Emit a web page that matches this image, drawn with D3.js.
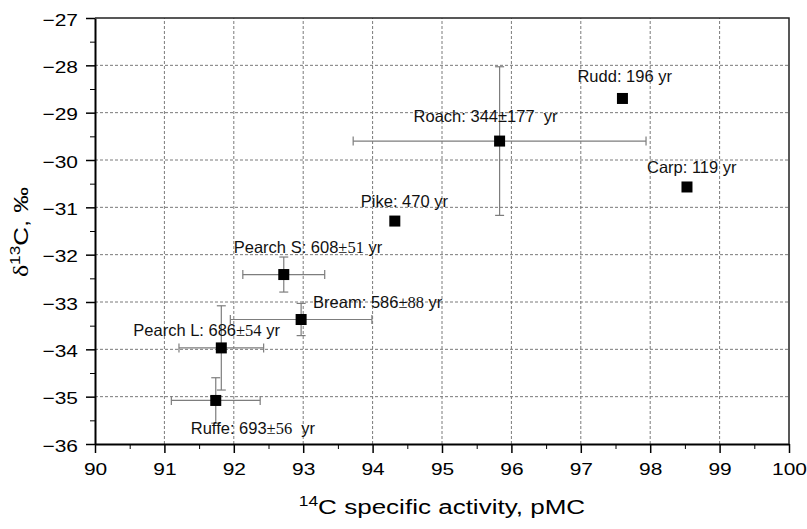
<!DOCTYPE html>
<html>
<head>
<meta charset="utf-8">
<script src="https://cdn.jsdelivr.net/npm/d3@7"></script>
<style>
  body { margin: 0; background: #fff; }
  svg { display: block; }
  .grid line { stroke: #7a7a7a; stroke-width: 1; stroke-dasharray: 3 2; }
  .axis path, .axis line { stroke: #000; }
  .axis text { font-family: "Liberation Sans", Arial, sans-serif; font-size: 17px; fill: #000; }
  .errbar { stroke: #7d7d7d; stroke-width: 1.2; fill: none; }
  .label { font-family: "Liberation Sans", Arial, sans-serif; font-size: 16.5px; fill: #111; white-space: pre; }
  .serif { font-family: "Liberation Serif", "Times New Roman", serif; }
  .title { font-family: "Liberation Sans", Arial, sans-serif; font-size: 21px; fill: #000; }
</style>
</head>
<body>
<div id="chart"></div>
<script>
// fish species, 14C specific activity (pMC) and d13C (permil)
const species = ["Rudd", "Roach", "Carp", "Pike", "Pearch S", "Bream", "Pearch L", "Ruffe"];
const pmc = [97.6, 95.83, 98.53, 94.32, 92.72, 92.97, 91.82, 91.74];
const d13c = [-28.7, -29.6, -30.57, -31.29, -32.42, -33.37, -33.97, -35.08];
const pmcErr = [0, 2.11, 0, 0, 0.59, 1.02, 0.61, 0.64];
const d13cErr = [0, 1.57, 0, 0, 0.37, 0.34, 0.89, 0.48];
const ages = ["196", "344", "119", "470", "608", "586", "686", "693"];
const ageErr = ["", "\u00b1177", "", "", "\u00b151", "\u00b188", "\u00b154", "\u00b156"];

const xTicks = [90, 91, 92, 93, 94, 95, 96, 97, 98, 99, 100];
const yTicks = [-36, -35, -34, -33, -32, -31, -30, -29, -28, -27];

const data = species.map((s, i) => ({
  name: s, x: pmc[i], y: d13c[i], xe: pmcErr[i], ye: d13cErr[i], age: ages[i], err: ageErr[i]
}));

const width = 807, height = 529;
const margin = { top: 18, right: 18, bottom: 85, left: 95 };

// label placement relative to the marker (px)
const labelOffset = {
  "Rudd": [-45, -16], "Roach": [-86, -19], "Carp": [-40, -14], "Pike": [-34, -14],
  "Pearch S": [-50, -22], "Bream": [12, -12], "Pearch L": [-88, -12], "Ruffe": [-25, 34]
};
const serifErr = { "Pearch S": true, "Bream": true, "Pearch L": true, "Ruffe": true };
const gapAfter = { "Roach": "  ", "Ruffe": "  " };

// the original lettering is wider than Liberation Sans
const stretch = 1.23;
function widen(sel, k) {
  sel.each(function() {
    const w = this.getComputedTextLength();
    d3.select(this).attr("textLength", w * k).attr("lengthAdjust", "spacingAndGlyphs");
  });
}

const xScale = d3.scaleLinear().domain([90, 100]).range([margin.left, width - margin.right]);
const yScale = d3.scaleLinear().domain([-36, -27]).range([height - margin.bottom, margin.top]);

const svg = d3.select("#chart").append("svg")
  .attr("width", width)
  .attr("height", height);

const x0 = xScale.range()[0], x1 = xScale.range()[1];
const y0 = yScale.range()[0], y1 = yScale.range()[1];

// grid
svg.append("g").attr("class", "grid")
  .selectAll("line").data(xTicks.slice(1, -1)).join("line")
  .attr("x1", d => xScale(d)).attr("x2", d => xScale(d))
  .attr("y1", y0).attr("y2", y1);
svg.append("g").attr("class", "grid")
  .selectAll("line").data(yTicks.slice(1, -1)).join("line")
  .attr("x1", x0).attr("x2", x1)
  .attr("y1", d => yScale(d)).attr("y2", d => yScale(d));

// error bars
const cap = 4.5;
const eb = svg.append("g").attr("class", "errbar");
data.filter(d => d.xe > 0).forEach(d => {
  const cy = yScale(d.y);
  eb.append("line").attr("x1", xScale(d.x - d.xe)).attr("x2", xScale(d.x + d.xe)).attr("y1", cy).attr("y2", cy);
  [d.x - d.xe, d.x + d.xe].forEach(v => {
    eb.append("line").attr("x1", xScale(v)).attr("x2", xScale(v)).attr("y1", cy - cap).attr("y2", cy + cap);
  });
});
data.filter(d => d.ye > 0).forEach(d => {
  const cx = xScale(d.x);
  eb.append("line").attr("x1", cx).attr("x2", cx).attr("y1", yScale(d.y - d.ye)).attr("y2", yScale(d.y + d.ye));
  [d.y - d.ye, d.y + d.ye].forEach(v => {
    eb.append("line").attr("x1", cx - cap).attr("x2", cx + cap).attr("y1", yScale(v)).attr("y2", yScale(v));
  });
});

// markers
const sz = 11;
svg.append("g").selectAll("rect").data(data).join("rect")
  .attr("x", d => xScale(d.x) - sz / 2)
  .attr("y", d => yScale(d.y) - sz / 2)
  .attr("width", sz).attr("height", sz)
  .attr("fill", "#000");

// labels
const lab = svg.append("g").selectAll("text").data(data).join("text")
  .attr("class", "label")
  .attr("x", d => xScale(d.x) + labelOffset[d.name][0])
  .attr("y", d => yScale(d.y) + labelOffset[d.name][1]);
lab.append("tspan").text(d => d.name + ": " + d.age);
lab.append("tspan").attr("class", d => serifErr[d.name] ? "serif" : null).text(d => d.err);
lab.append("tspan").text(d => (gapAfter[d.name] || " ") + "yr");

// axes
const gx = svg.append("g").attr("class", "axis")
  .attr("transform", "translate(0," + y0 + ")")
  .call(d3.axisBottom(xScale).tickValues(xTicks).tickSize(9).tickSizeOuter(0).tickPadding(10).tickFormat(d3.format("d")));
svg.append("g").attr("class", "axis")
  .attr("transform", "translate(0," + y0 + ")")
  .call(d3.axisBottom(xScale).tickValues(d3.range(90.5, 100, 1)).tickSize(5).tickSizeOuter(0).tickFormat(""))
  .call(g => g.select(".domain").remove());

const gy = svg.append("g").attr("class", "axis")
  .attr("transform", "translate(" + x0 + ",0)")
  .call(d3.axisLeft(yScale).tickValues(yTicks).tickSize(9).tickSizeOuter(0).tickPadding(8).tickFormat(d3.format("d")));
svg.append("g").attr("class", "axis")
  .attr("transform", "translate(" + x0 + ",0)")
  .call(d3.axisLeft(yScale).tickValues(d3.range(-35.5, -27, 1)).tickSize(5).tickSizeOuter(0).tickFormat(""))
  .call(g => g.select(".domain").remove());

gy.selectAll(".tick text").attr("dy", "0.42em");
widen(gx.selectAll(".tick text"), stretch);
widen(gy.selectAll(".tick text"), stretch);

gx.selectAll("line").attr("stroke-width", 1.5);
gy.selectAll("line").attr("stroke-width", 1.5);
gx.select(".domain").attr("stroke-width", 2);
gy.select(".domain").attr("stroke-width", 2);

// frame top & right
svg.append("path")
  .attr("d", "M" + x0 + "," + y1 + "H" + x1 + "V" + y0)
  .attr("fill", "none").attr("stroke", "#222").attr("stroke-width", 1.5);

// axis titles
const xt = svg.append("text").attr("class", "title")
  .attr("transform", "translate(" + (x0 + x1) / 2 + ",514) scale(1.24,1)")
  .attr("text-anchor", "middle");
xt.append("tspan").attr("font-size", 14).attr("dy", -8).text("14");
xt.append("tspan").attr("dy", 8).text("C specific activity, pMC");

const yt = svg.append("text").attr("class", "title")
  .attr("transform", "translate(28,232) rotate(-90) scale(1.23,1)")
  .attr("text-anchor", "middle");
yt.append("tspan").attr("class", "serif").text("\u03b4");
yt.append("tspan").attr("font-size", 14).attr("dy", -8).text("13");
yt.append("tspan").attr("dy", 8).text("C, \u2030");
</script>
</body>
</html>
